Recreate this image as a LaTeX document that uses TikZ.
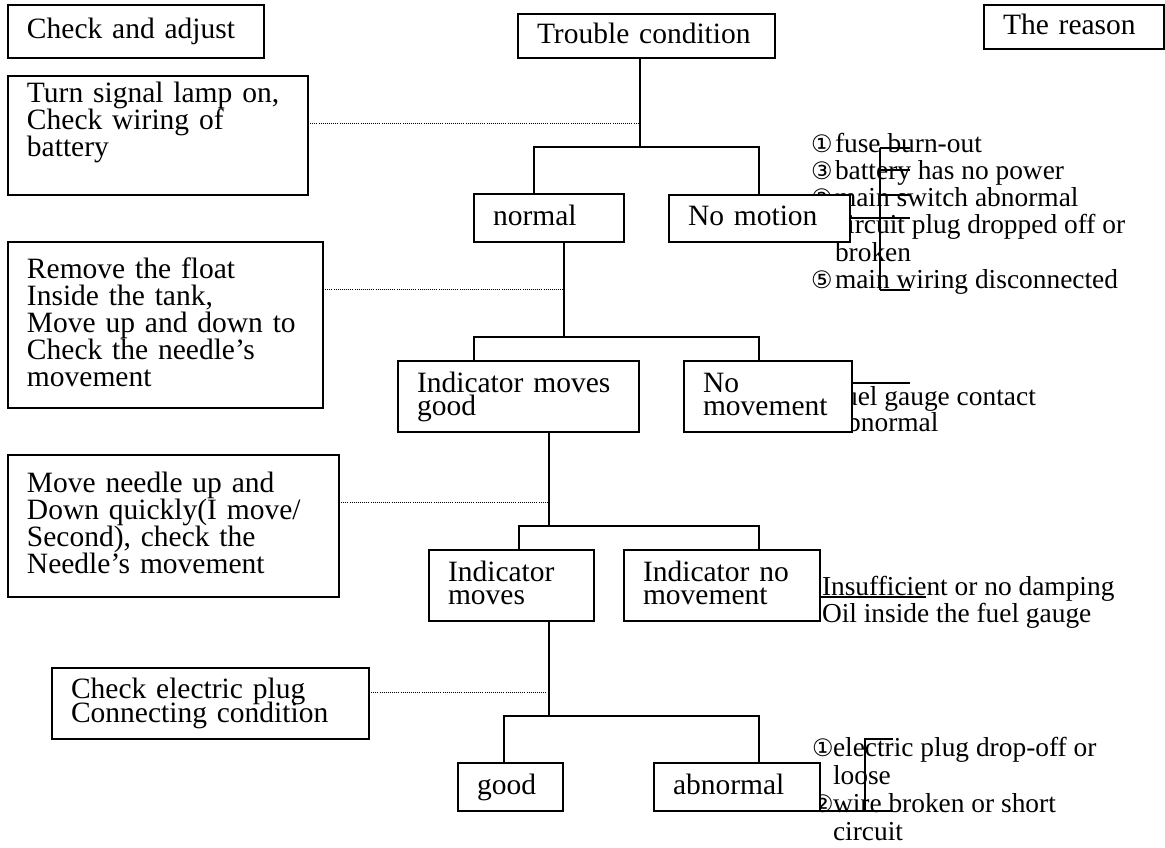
\documentclass[tikz,border=0pt]{standalone}
\usepackage{fontspec}
\setmainfont{Liberation Serif}
\newfontfamily\circfont{DejaVu Sans}

% text sizes: boxed steps, two-line boxes, cause lists
\newcommand{\boxfont}{\fontsize{29.5}{27}\selectfont\lineskiplimit=-100pt\relax}
\newcommand{\tightfont}{\fontsize{29.5}{23}\selectfont\lineskiplimit=-100pt\relax}
\newcommand{\plugfont}{\fontsize{29.5}{24}\selectfont\lineskiplimit=-100pt\relax}
\newcommand{\reasonfont}{\fontsize{27.4}{27.3}\selectfont\lineskiplimit=-100pt\relax}
\newcommand{\reasonfontB}{\fontsize{27.4}{28}\selectfont\lineskiplimit=-100pt\relax}
\newcommand{\reasonfontC}{\fontsize{27.4}{26}\selectfont\lineskiplimit=-100pt\relax}
% fixed first-line height and last-line depth
\newcommand{\topst}{\rule{0pt}{21pt}}
\newcommand{\botst}{\rule[-7pt]{0pt}{7pt}}
% circled item number in a box of given width
\newcommand{\cnum}[2]{\makebox[#1][l]{\circfont\fontsize{24}{24}\selectfont #2}}

\tikzset{
  box/.style={draw, fill=white, line width=1.5pt, anchor=north west,
    inner xsep=19pt, inner ysep=0pt, outer sep=0pt, align=left, font=\tightfont},
  wide/.style={font=\boxfont},
  reason/.style={anchor=north west, inner sep=0pt, outer sep=0pt, align=left, font=\reasonfont},
  ln/.style={line width=1.5pt},
  dotline/.style={line width=0.9pt, dash pattern=on 0.9pt off 1.2pt},
}

\begin{document}
\begin{tikzpicture}[x=1pt, y=-1pt]
\useasboundingbox (0,0) rectangle (1165,847);

% ---- causes (partly covered by the boxes) ----
\node[reason] (rs1) at (811,131) {\topst\cnum{24pt}{①}fuse burn-out\\
  \cnum{24pt}{③}battery has no power\\
  \cnum{24pt}{②}main switch abnormal\\
  \cnum{24pt}{④}circuit plug dropped off or\\
  \hspace*{24pt}broken\\
  \cnum{24pt}{⑤}main wiring disconnected};
\node[reason, font=\reasonfontC] (rs2) at (835,384) {\topst fuel gauge contact\\abnormal};
\node[reason] (rs3) at (822,574) {\topst Insufficient or no damping\\Oil inside the fuel gauge};
\node[reason, font=\reasonfontB] (rs4) at (812,735)
  {\topst\cnum{21pt}{①}electric plug drop-off or\\
  \hspace*{21pt}loose\\
  \cnum{21pt}{②}wire broken or short\\
  \hspace*{21pt}circuit};

% ---- headings ----
\node[box, minimum width=256pt, minimum height=53pt, text width=218pt] (ca) at (8,5) {\topst Check and adjust\botst};
\node[box, minimum width=257pt, minimum height=44pt, text width=219pt] (tc) at (518,14) {\topst Trouble condition\botst};
\node[box, minimum width=180pt, minimum height=44pt, text width=142pt] (tr) at (984,5) {\topst The reason\botst};

% ---- check steps ----
\node[box, wide, minimum width=300pt, minimum height=119pt, text width=262pt] (turn) at (8,76)
  {\topst Turn signal lamp on,\\Check wiring of\\battery\\\botst};
\node[box, wide, minimum width=315pt, minimum height=166pt, text width=277pt] (rem) at (8,242)
  {\topst Remove the float\\Inside the tank,\\Move up and down to\\Check the needle’s\\movement\botst};
\node[box, wide, minimum width=331pt, minimum height=142pt, text width=293pt] (mov) at (8,455)
  {\topst Move needle up and\\Down quickly(I move/\\Second), check the\\Needle’s movement\botst};
\node[box, font=\plugfont, minimum width=317pt, minimum height=71pt, text width=279pt] (ce) at (52,668)
  {\topst Check electric plug\\Connecting condition\botst};

% ---- conditions ----
\node[box, minimum width=150pt, minimum height=48pt, text width=112pt] (normal) at (474,194) {\topst normal\botst};
\node[box, minimum width=181pt, minimum height=47pt, text width=143pt] (nomo) at (669,195) {\topst No motion\botst};
\node[box, minimum width=241pt, minimum height=71pt, text width=203pt] (img) at (398,361) {\topst Indicator moves\\good\botst};
\node[box, minimum width=166pt, minimum height=71pt, text width=130pt] (nm) at (684,361) {\topst No\\movement\botst};
\node[box, minimum width=165pt, minimum height=71pt, text width=127pt] (im) at (429,550) {\topst Indicator\\moves\botst};
\node[box, minimum width=196pt, minimum height=71pt, text width=158pt] (inm) at (624,550) {\topst Indicator no\\movement\botst};
\node[box, minimum width=105pt, minimum height=48pt, text width=67pt] (good) at (458,763) {\topst good\botst};
\node[box, minimum width=166pt, minimum height=48pt, text width=128pt] (abn) at (654,763) {\topst abnormal\botst};

% ---- tree junctions ----
\coordinate (v1) at (640,147);  \coordinate (b1l) at (534,147); \coordinate (b1r) at (759,147);
\coordinate (v2) at (564,337);  \coordinate (b2l) at (474,337); \coordinate (b2r) at (759,337);
\coordinate (v3) at (549,526);  \coordinate (b3l) at (519,526); \coordinate (b3r) at (759,526);
\coordinate (v4) at (549,716);  \coordinate (b4l) at (504,716); \coordinate (b4r) at (759,716);

\draw[ln] (tc.south -| v1) -- (v1);
\draw[ln] (normal.north -| b1l) -- (b1l) -- (b1r) -- (nomo.north -| b1r);
\draw[ln] (normal.south -| v2) -- (v2);
\draw[ln] (img.north -| b2l) -- (b2l) -- (b2r) -- (nm.north -| b2r);
\draw[ln] (img.south -| v3) -- (v3);
\draw[ln] (im.north -| b3l) -- (b3l) -- (b3r) -- (inm.north -| b3r);
\draw[ln] (im.south -| v4) -- (v4);
\draw[ln] (good.north -| b4l) -- (b4l) -- (b4r) -- (abn.north -| b4r);

% ---- dotted leaders from the check steps ----
\coordinate (d1) at (640,123);
\coordinate (d2) at (564,289);
\coordinate (d3) at (549,502);
\coordinate (d4) at (549,692);
\draw[dotline] (turn.east |- d1) -- (d1);
\draw[dotline] (rem.east |- d2) -- (d2);
\draw[dotline] (mov.east |- d3) -- (d3);
\draw[dotline] (ce.east |- d4) -- (d4);

% ---- brackets beside the causes ----
\draw[ln] (880,148) -- (880,290);
\foreach \yy in {148,170,195,290} \draw[ln] (880,\yy) -- (910,\yy);
\draw[ln] (nomo.east |- 0,218) -- (910,218);
\draw[ln] (nm.east |- 0,383) -- (910,383);
\draw[ln] (inm.east |- 0,597) -- (926,597);
\draw[ln] (893,739) -- (865,739) -- (865,811);
\draw[ln] (abn.south east) -- (893,811);
\end{tikzpicture}
\end{document}
